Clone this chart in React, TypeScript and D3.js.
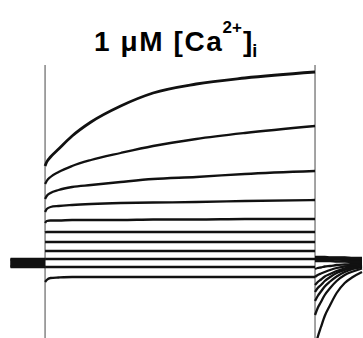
import { useEffect, useRef } from "react";
import * as d3 from "d3";

const width = 363;
const height = 338;

// sample times (ms) inside the voltage step
const stepTimes = [0, 3, 10, 25, 50, 85, 140, 200, 280, 370, 500];
const stepEnd = 500;
// sample times (ms) after the step, tail currents
const tailTimes = [0, 5, 11, 18, 28, 40, 55, 70, 87];
const holdStart = -64;

// holding current before the step (nA), one per sweep
const holdingCurrents = [0.04, 0.03, 0.02, 0.01, 0.0, -0.01, -0.02, -0.03, -0.04, 0.035, -0.035];

// current during the step (nA)
const sweep1 = [0.97, 1.01, 1.06, 1.14, 1.27, 1.41, 1.57, 1.7, 1.79, 1.85, 1.91];
const sweep2 = [0.79, 0.82, 0.86, 0.91, 0.97, 1.03, 1.1, 1.17, 1.24, 1.3, 1.37];
const sweep3 = [0.64, 0.67, 0.7, 0.73, 0.76, 0.78, 0.81, 0.84, 0.86, 0.89, 0.92];
const sweep4 = [0.51, 0.54, 0.56, 0.57, 0.58, 0.59, 0.6, 0.605, 0.61, 0.62, 0.63];
const sweep5 = [0.4, 0.42, 0.425, 0.425, 0.43, 0.43, 0.43, 0.435, 0.435, 0.44, 0.44];
const sweep6 = [0.305, 0.31, 0.31, 0.31, 0.31, 0.31, 0.31, 0.31, 0.31, 0.31, 0.31];
const sweep7 = [0.21, 0.21, 0.21, 0.21, 0.21, 0.21, 0.21, 0.21, 0.21, 0.21, 0.21];
const sweep8 = [0.12, 0.12, 0.12, 0.12, 0.12, 0.12, 0.12, 0.12, 0.12, 0.12, 0.12];
const sweep9 = [0.04, 0.04, 0.04, 0.04, 0.04, 0.04, 0.04, 0.04, 0.04, 0.04, 0.04];
const sweep10 = [-0.04, -0.04, -0.04, -0.04, -0.04, -0.04, -0.04, -0.04, -0.04, -0.04, -0.04];
const sweep11 = [-0.19, -0.17, -0.15, -0.145, -0.14, -0.14, -0.14, -0.14, -0.14, -0.14, -0.14];

// tail current after the step (nA)
const tail1 = [-0.85, -0.74, -0.64, -0.53, -0.42, -0.3, -0.2, -0.14, -0.09];
const tail2 = [-0.52, -0.45, -0.39, -0.32, -0.25, -0.18, -0.12, -0.085, -0.055];
const tail3 = [-0.38, -0.33, -0.285, -0.235, -0.185, -0.135, -0.09, -0.06, -0.04];
const tail4 = [-0.29, -0.25, -0.22, -0.18, -0.14, -0.1, -0.07, -0.05, -0.03];
const tail5 = [-0.22, -0.19, -0.165, -0.135, -0.11, -0.08, -0.055, -0.035, -0.025];
const tail6 = [-0.14, -0.12, -0.105, -0.09, -0.07, -0.05, -0.035, -0.025, -0.015];
const tail7 = [-0.06, -0.05, -0.045, -0.035, -0.03, -0.02, -0.015, -0.01, -0.005];
const tail8 = [0.03, 0.035, 0.04, 0.04, 0.04, 0.035, 0.03, 0.03, 0.03];
const tail9 = [0.05, 0.05, 0.05, 0.05, 0.05, 0.05, 0.05, 0.045, 0.04];
const tail10 = [0.06, 0.06, 0.06, 0.06, 0.055, 0.055, 0.055, 0.05, 0.05];
const tail11 = [0.02, 0.02, 0.02, 0.02, 0.02, 0.015, 0.015, 0.01, 0.01];

const sweeps = [sweep1, sweep2, sweep3, sweep4, sweep5, sweep6, sweep7, sweep8, sweep9, sweep10, sweep11];
const tails = [tail1, tail2, tail3, tail4, tail5, tail6, tail7, tail8, tail9, tail10, tail11];

export default function App() {
    const svgRef = useRef<SVGSVGElement>(null);

    useEffect(() => {
        const svg = d3.select(svgRef.current);
        svg.selectAll("*").remove();

        const x = d3.scaleLinear().domain([-65, 587]).range([10, 362]);
        const y = d3.scaleLinear().domain([-0.75, 2.63]).range([height, 0]);

        const line = d3.line<[number, number]>()
            .x(d => x(d[0]))
            .y(d => y(d[1]))
            .curve(d3.curveMonotoneX);

        // step on / off markers
        [0, stepEnd].forEach(t => {
            svg.append("line")
                .attr("x1", x(t)).attr("x2", x(t))
                .attr("y1", 65).attr("y2", height)
                .attr("stroke", "#999")
                .attr("stroke-width", 1.8);
        });

        const g = svg.append("g")
            .attr("fill", "none")
            .attr("stroke", "#111")
            .attr("stroke-width", 2.3);

        sweeps.forEach((sweep, i) => {
            const hold = holdingCurrents[i];
            g.append("path").attr("d", line([[holdStart, hold], [0, hold]]));
            g.append("path")
                .attr("stroke-width", i === 0 ? 2.8 : 2.3)
                .attr("d", line(stepTimes.map((t, j) => [t, sweep[j]] as [number, number])));
            g.append("path").attr("d", line(tailTimes.map((t, j) => [stepEnd + t, tails[i][j]] as [number, number])));
        });

        const title = svg.append("text")
            .attr("x", 94)
            .attr("y", 51)
            .attr("font-family", "'Liberation Sans', Arial, sans-serif")
            .attr("font-weight", "bold")
            .attr("font-size", 28)
            .attr("fill", "#000");
        title.append("tspan").attr("letter-spacing", 1.6).text("1 \u03BCM [Ca");
        title.append("tspan").attr("font-size", 17).attr("dx", -1).attr("dy", -18).text("2+");
        title.append("tspan").attr("dx", 1).attr("dy", 18).text("]");
        title.append("tspan").attr("font-size", 18).attr("dy", 6).text("i");
    }, []);

    return (
        <svg ref={svgRef} width={width} height={height}
             style={{position: "absolute", left: 0, top: 0, background: "#fff"}} />
    );
}
